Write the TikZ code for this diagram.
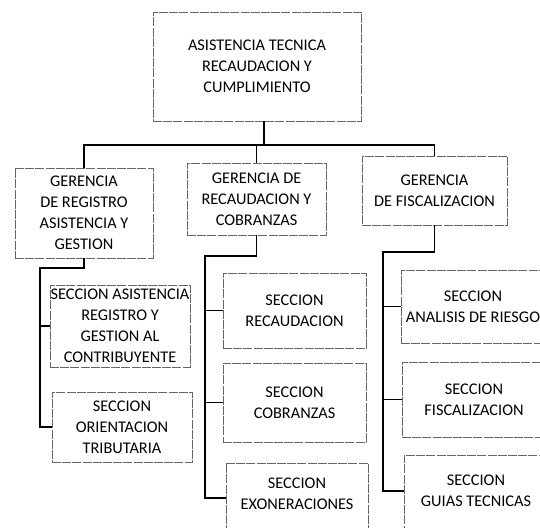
\documentclass[tikz,border=0pt]{standalone}
\usepackage{fontspec}
\setmainfont{Carlito}
\begin{document}
\begin{tikzpicture}[x=1pt,y=-1pt,
  box/.style={draw=black!60, line width=0.7pt, dash pattern=on 9pt off 1.2pt, inner sep=0pt, align=center, font=\fontsize{16.3}{21}\selectfont, text=black},
  txt/.style={inner sep=0pt, align=center, font=\fontsize{16.3}{21.5}\selectfont, text=black},
  link/.style={draw=black, line width=1.6pt}]
\useasboundingbox (0,0) rectangle (540,527);
\clip (0,0) rectangle (540,527);
% top
\node[box, minimum width=208pt, minimum height=109pt] (top) at (257,66.5) {ASISTENCIA TECNICA\\RECAUDACION Y\\CUMPLIMIENTO};
% gerencias
\node[box, minimum width=138pt, minimum height=90pt] (g1) at (84,213) {GERENCIA\\DE REGISTRO\\ASISTENCIA Y\\GESTION};
\node[box, minimum width=139pt, minimum height=72pt] (g2) at (256.5,199) {GERENCIA DE\\RECAUDACION Y\\COBRANZAS};
\node[box, minimum width=145pt, minimum height=69pt] (g3) at (434.5,190.5) {GERENCIA\\DE FISCALIZACION};
% left sections
\node[box, minimum width=140pt, minimum height=82pt] (s11) at (120,326) {SECCION ASISTENCIA\\REGISTRO Y\\GESTION AL\\CONTRIBUYENTE};
\node[box, minimum width=140pt, minimum height=70pt] (s12) at (122,427) {SECCION\\ORIENTACION\\TRIBUTARIA};
% center sections
\node[box, minimum width=143pt, minimum height=75pt] (s21) at (294.5,310.5) {SECCION\\RECAUDACION};
\node[box, minimum width=143pt, minimum height=79pt] (s22) at (294.5,402.5) {SECCION\\COBRANZAS};
\node[box, minimum width=142pt, minimum height=82pt] (s23) at (297,504) {};
\node[txt] (s23t) at (297,494) {SECCION\\EXONERACIONES};
% right sections
\node[box, minimum width=144pt, minimum height=73pt] (s31) at (473,306.5) {SECCION\\ANALISIS DE RIESGO};
\node[box, minimum width=144pt, minimum height=75pt] (s32) at (474,399.5) {SECCION\\FISCALIZACION};
\node[box, minimum width=144pt, minimum height=80pt] (s33) at (476,495) {};
\node[txt] (s33t) at (476,491) {SECCION\\GUIAS TECNICAS};
% coordinates
\coordinate (stem) at (264,145);
\coordinate (lc) at (40,268);
\coordinate (cc) at (205,256);
\coordinate (rc) at (383,252);
% top links
\draw[link] (top.south -| stem) -- (stem);
\draw[link] (g1.north) -- (g1.north |- stem) -- (g3.north |- stem) -- (g3.north);
\draw[link] (g2.north) -- (g2.north |- stem);
% left branch
\draw[link] (g1.south) |- (lc) -- (lc |- s12.west) -- (s12.west);
\draw[link] (lc |- s11.west) -- (s11.west);
% center branch
\draw[link] (g2.south) |- (cc) -- (205,498) -- (s23.west |- 0,498);
\draw[link] (cc |- s21.west) -- (s21.west);
\draw[link] (cc |- s22.west) -- (s22.west);
% right branch
\draw[link] (g3.south) |- (rc) -- (383,491) -- (s33.west |- 0,491);
\draw[link] (rc |- s31.west) -- (s31.west);
\draw[link] (rc |- s32.west) -- (s32.west);
\end{tikzpicture}
\end{document}
